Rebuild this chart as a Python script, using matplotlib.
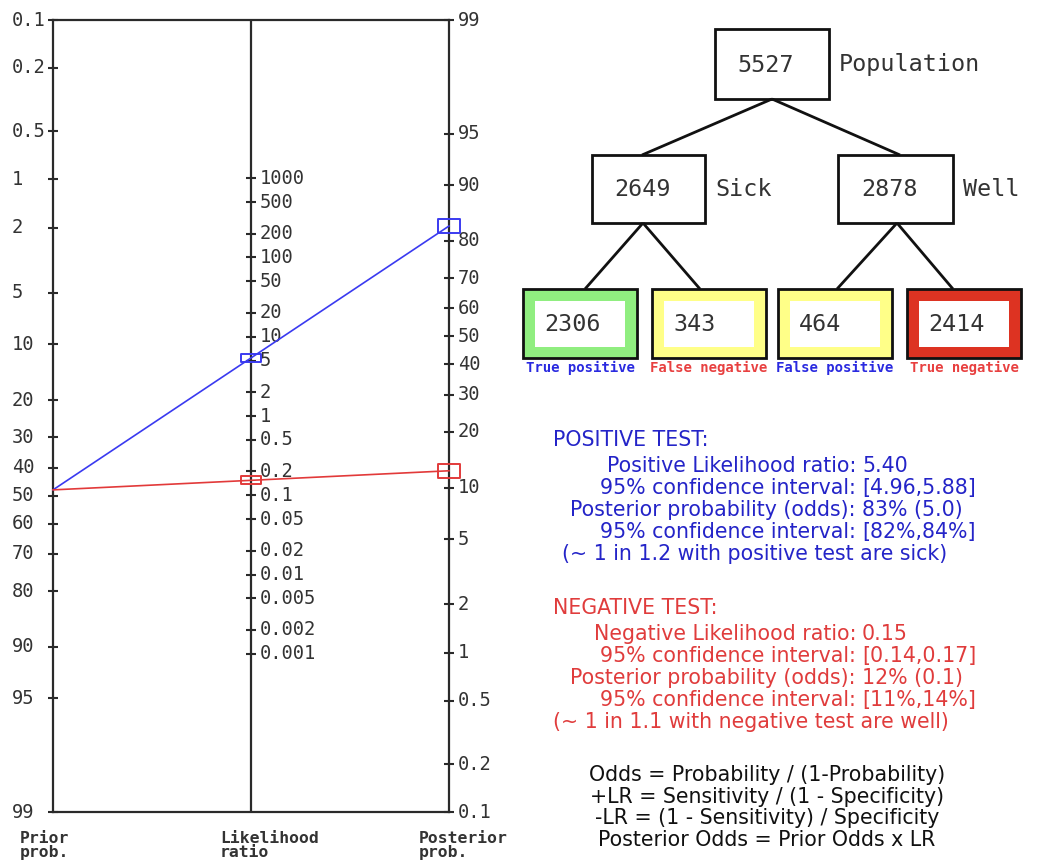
import numpy as np
import matplotlib
matplotlib.use('Agg')
import matplotlib.pyplot as plt
from matplotlib.path import Path
from matplotlib.patches import Rectangle

# ---------------- data ----------------
population = 5527
sick = 2649
well = 2878
true_pos = 2306
false_neg = 343
false_pos = 464
true_neg = 2414

prior_ticks = [0.1, 0.2, 0.5, 1, 2, 5, 10, 20, 30, 40, 50, 60, 70, 80, 90, 95, 99]
prior_labels = ['0.1', '0.2', '0.5', '1', '2', '5', '10', '20', '30', '40', '50',
                '60', '70', '80', '90', '95', '99']
post_ticks = [99, 95, 90, 80, 70, 60, 50, 40, 30, 20, 10, 5, 2, 1, 0.5, 0.2, 0.1]
post_labels = ['99', '95', '90', '80', '70', '60', '50', '40', '30', '20', '10',
               '5', '2', '1', '0.5', '0.2', '0.1']
lr_ticks = [1000, 500, 200, 100, 50, 20, 10, 5, 2, 1, 0.5, 0.2, 0.1, 0.05, 0.02,
            0.01, 0.005, 0.002, 0.001]
lr_labels = ['1000', '500', '200', '100', '50', '20', '10', '5', '2', '1', '0.5',
             '0.2', '0.1', '0.05', '0.02', '0.01', '0.005', '0.002', '0.001']

lr_pos_ci = [4.96, 5.88]
post_pos_ci = [82, 84]
lr_neg_ci = [0.14, 0.17]
post_neg_ci = [11, 14]
one_in_pos = 1.2
one_in_neg = 1.1

# ---------------- derived ----------------
prior = sick / population
sens = true_pos / sick
spec = true_neg / well
lr_pos = sens / (1 - spec)
lr_neg = (1 - sens) / spec
prior_odds = prior / (1 - prior)
odds_pos = prior_odds * lr_pos
odds_neg = prior_odds * lr_neg
post_pos = odds_pos / (1 + odds_pos)
post_neg = odds_neg / (1 + odds_neg)

W, H = 1061, 861
fig = plt.figure(figsize=(W / 100, H / 100), dpi=100)
fig.patch.set_facecolor('white')

MONO = 'DejaVu Sans Mono'
SANS = 'DejaVu Sans'
AXC = '#2a2a2a'


def logit(p):
    p = np.asarray(p, dtype=float)
    return np.log(p / (1 - p))


L_TOP = float(logit(0.001))
L_BOT = float(logit(0.99))


def y_prior(pct):
    return logit(np.asarray(pct) / 100.0)


def y_post(pct):
    return L_TOP + L_BOT - logit(np.asarray(pct) / 100.0)


def y_lr(lr):
    return (L_TOP + L_BOT - np.log(np.asarray(lr, dtype=float))) / 2


# ---------------- nomogram ----------------
ax = fig.add_axes([53 / W, 1 - 812 / H, 396 / W, 792 / H])
ax.set_xlim(0, 2)
ax.set_ylim(L_BOT, L_TOP)
ax.set_xticks([])
ax.set_yticks([])
ax.patch.set_alpha(0)
for s in ax.spines.values():
    s.set_linewidth(1.6)
    s.set_color(AXC)
ax.axvline(1, color=AXC, lw=1.6)

tick_kw = dict(ls='none', marker='_', ms=7, mew=1.5, color=AXC, clip_on=False)
ax.plot(np.zeros(len(prior_ticks)), y_prior(prior_ticks), **tick_kw)
ax.plot(np.full(len(post_ticks), 2.0), y_post(post_ticks), **tick_kw)
ax.plot(np.ones(len(lr_ticks)), y_lr(lr_ticks), **tick_kw)

lab_kw = dict(textcoords='offset pixels', va='center', ha='left', family=MONO,
              fontsize=13.5, color='#333333', annotation_clip=False)
for t, l in zip(prior_ticks, prior_labels):
    ax.annotate(l, (0, y_prior(t)), xytext=(-41, 0), **lab_kw)
for t, l in zip(post_ticks, post_labels):
    ax.annotate(l, (2, y_post(t)), xytext=(9, 0), **lab_kw)
for t, l in zip(lr_ticks, lr_labels):
    ax.annotate(l, (1, y_lr(t)), xytext=(9, 0), **lab_kw)

mid_marker = Path([(-1, -0.38), (1, -0.38), (1, 0.38), (-1, 0.38), (-1, -0.38)],
                  [Path.MOVETO, Path.LINETO, Path.LINETO, Path.LINETO, Path.CLOSEPOLY])
end_marker = Path([(-1, -0.6), (1, -0.6), (1, 0.6), (-1, 0.6), (-1, -0.6)],
                  [Path.MOVETO, Path.LINETO, Path.LINETO, Path.LINETO, Path.CLOSEPOLY])

for lr, post, col in [(lr_pos, post_pos, '#3a3af0'), (lr_neg, post_neg, '#e23a3a')]:
    ax.plot([0, 2], [y_prior(prior * 100), y_post(post * 100)], color=col, lw=1.2,
            clip_on=False, zorder=4)
    ax.plot([1], [y_lr(lr)], ls='none', marker=mid_marker, ms=14, mfc='none',
            mec=col, mew=1.4, clip_on=False, zorder=5)
    ax.plot([2], [y_post(post * 100)], ls='none', marker=end_marker, ms=16, mfc='none',
            mec=col, mew=1.4, clip_on=False, zorder=5)

bot_kw = dict(family=MONO, fontweight='bold', fontsize=11.8, color='#333333',
              ha='left', va='top', linespacing=0.9)
fig.text(20 / W, 1 - 831 / H, 'Prior\nprob.', **bot_kw)
fig.text(220 / W, 1 - 831 / H, 'Likelihood\nratio', **bot_kw)
fig.text(419 / W, 1 - 831 / H, 'Posterior\nprob.', **bot_kw)

# ---------------- tree ----------------
ov = fig.add_axes([0, 0, 1, 1])
ov.set_xlim(0, W)
ov.set_ylim(H, 0)
ov.axis('off')
ov.patch.set_alpha(0)

BLK = '#111111'
TFS = 16.8
edges = [((772, 99), (642, 155)), ((772, 99), (900, 155)),
         ((643, 223), (585, 289)), ((643, 223), (700, 289)),
         ((897, 223), (837, 289)), ((897, 223), (953, 289))]
for (x0, y0), (x1, y1) in edges:
    ov.plot([x0, x1], [y0, y1], color=BLK, lw=2.0, solid_capstyle='butt')

top_boxes = [((715, 29, 114, 70), population, 'Population'),
             ((592, 155, 113, 68), sick, 'Sick'),
             ((838, 155, 115, 68), well, 'Well')]
for (x, y, w, h), n, name in top_boxes:
    ov.add_patch(Rectangle((x, y), w, h, facecolor='white', edgecolor=BLK, lw=2.0))
    ov.text(x + w / 2 - 6, y + h / 2 + 1, str(n), family=MONO, fontsize=TFS,
            ha='center', va='center', color='#333333')
    ov.text(x + w + 10, y + h / 2 + 1, name, family=MONO, fontsize=TFS,
            ha='left', va='center', color='#333333')

leaf_boxes = [((523, 289), true_pos, '#90ee80', 'True positive', '#2a2ae0'),
              ((652, 289), false_neg, '#ffff88', 'False negative', '#e84040'),
              ((778, 289), false_pos, '#ffff88', 'False positive', '#2a2ae0'),
              ((907, 289), true_neg, '#dd3322', 'True negative', '#e84040')]
for (x, y), n, fc, lab, lc in leaf_boxes:
    w, h = 114, 69
    ov.add_patch(Rectangle((x, y), w, h, facecolor=fc, edgecolor=BLK, lw=2.0))
    ov.add_patch(Rectangle((x + 12, y + 12), w - 24, h - 23, facecolor='white',
                           edgecolor='none'))
    ov.text(x + 21, y + h / 2 + 1, str(n), family=MONO, fontsize=TFS,
            ha='left', va='center', color='#333333')
    ov.text(x + w / 2, y + h + 10, lab, family=MONO, fontweight='bold', fontsize=10.1,
            ha='center', va='center', color=lc)

# ---------------- text panel ----------------
BLUE = '#2424c8'
RED = '#e03c3c'
FS = 14.8

ov.text(553, 440, 'POSITIVE TEST:', family=SANS, fontsize=FS, color=BLUE,
        ha='left', va='center')
pos_rows = [('Positive Likelihood ratio:', f'{lr_pos:.2f}'),
            ('95% confidence interval:', f'[{lr_pos_ci[0]:.2f},{lr_pos_ci[1]:.2f}]'),
            ('Posterior probability (odds):', f'{post_pos * 100:.0f}% ({odds_pos:.1f})'),
            ('95% confidence interval:', f'[{post_pos_ci[0]}%,{post_pos_ci[1]}%]')]
for i, (l, v) in enumerate(pos_rows):
    yy = 466 + i * 22
    ov.text(856, yy, l, family=SANS, fontsize=FS, color=BLUE, ha='right', va='center')
    ov.text(862, yy, v, family=SANS, fontsize=FS, color=BLUE, ha='left', va='center')
ov.text(755, 554, f'(~ 1 in {one_in_pos} with positive test are sick)', family=SANS,
        fontsize=FS, color=BLUE, ha='center', va='center')

ov.text(553, 608, 'NEGATIVE TEST:', family=SANS, fontsize=FS, color=RED,
        ha='left', va='center')
neg_rows = [('Negative Likelihood ratio:', f'{lr_neg:.2f}'),
            ('95% confidence interval:', f'[{lr_neg_ci[0]:.2f},{lr_neg_ci[1]:.2f}]'),
            ('Posterior probability (odds):', f'{post_neg * 100:.0f}% ({odds_neg:.1f})'),
            ('95% confidence interval:', f'[{post_neg_ci[0]}%,{post_neg_ci[1]}%]')]
for i, (l, v) in enumerate(neg_rows):
    yy = 634 + i * 22
    ov.text(856, yy, l, family=SANS, fontsize=FS, color=RED, ha='right', va='center')
    ov.text(862, yy, v, family=SANS, fontsize=FS, color=RED, ha='left', va='center')
ov.text(751, 722, f'(~ 1 in {one_in_neg} with negative test are well)', family=SANS,
        fontsize=FS, color=RED, ha='center', va='center')

formulas = ['Odds = Probability / (1-Probability)',
            '+LR = Sensitivity / (1 - Specificity)',
            '-LR = (1 - Sensitivity) / Specificity',
            'Posterior Odds = Prior Odds x LR']
for i, f in enumerate(formulas):
    ov.text(767, 775 + i * 21.7, f, family=SANS, fontsize=FS, color='#111111',
            ha='center', va='center')

fig.savefig('out.png', dpi=100, facecolor='white')
